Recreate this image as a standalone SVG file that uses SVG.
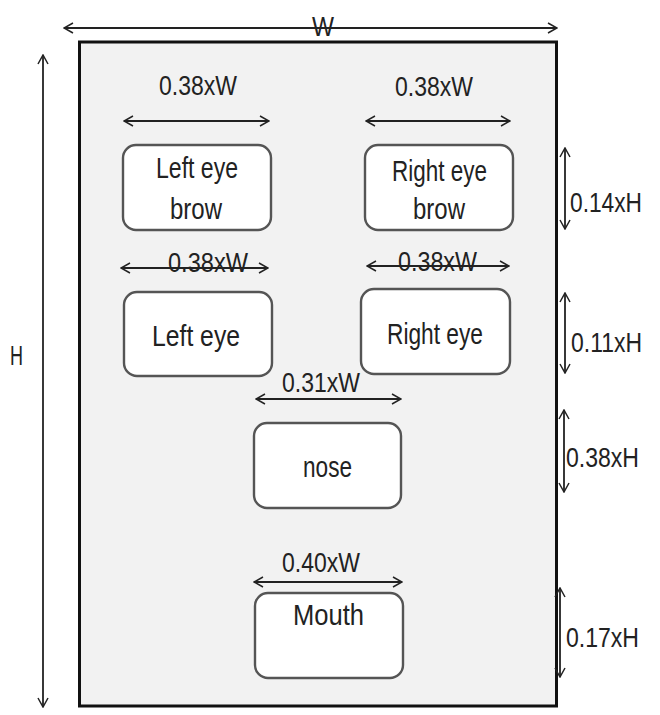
<svg xmlns="http://www.w3.org/2000/svg" width="660" height="715" viewBox="0 0 660 715">
<defs>
<marker id="a" viewBox="0 0 12 12" refX="11" refY="6" markerWidth="12" markerHeight="12" markerUnits="userSpaceOnUse" orient="auto-start-reverse">
<polyline points="2,1 11,6 2,11" fill="none" stroke="#222" stroke-width="1.5"/>
</marker>
<style>
.dim{stroke:#222;stroke-width:1.8;fill:none;marker-start:url(#a);marker-end:url(#a)}
.box{fill:#fff;stroke:#555;stroke-width:2.4}
text{font-family:"Liberation Sans",Arial,sans-serif;fill:#222;font-size:28px}
.b{font-size:30px}
</style>
</defs>
<rect x="0" y="0" width="660" height="715" fill="#fff"/>
<rect id="frame" x="79.5" y="42" width="477" height="664" fill="#f2f2f2" stroke="#111" stroke-width="3"/>
<g id="connectors">
<line class="dim" x1="64" y1="28" x2="557" y2="28"/>
<line class="dim" x1="43" y1="55" x2="43" y2="707"/>
<line class="dim" x1="124" y1="121" x2="269" y2="121"/>
<line class="dim" x1="366" y1="121" x2="510" y2="121"/>
<line class="dim" x1="121" y1="268" x2="268" y2="268"/>
<line class="dim" x1="367" y1="266" x2="509" y2="266"/>
<line class="dim" x1="256" y1="399" x2="401" y2="399"/>
<line class="dim" x1="254" y1="582" x2="402" y2="582"/>
<line class="dim" x1="565" y1="148" x2="565" y2="229"/>
<line class="dim" x1="565" y1="293" x2="565" y2="373"/>
<line class="dim" x1="564" y1="410" x2="564" y2="492"/>
<line class="dim" x1="560" y1="588" x2="560" y2="677"/>
</g>
<g id="labels">
<text x="312" y="36" font-size="30" textLength="22" lengthAdjust="spacingAndGlyphs">W</text>
<text x="10" y="365" font-size="28" textLength="13" lengthAdjust="spacingAndGlyphs">H</text>
<text x="159" y="95" textLength="78" lengthAdjust="spacingAndGlyphs">0.38xW</text>
<text x="395" y="96" textLength="78" lengthAdjust="spacingAndGlyphs">0.38xW</text>
<text x="168" y="272" textLength="80" lengthAdjust="spacingAndGlyphs">0.38xW</text>
<text x="398" y="271" textLength="79" lengthAdjust="spacingAndGlyphs">0.38xW</text>
<text x="282" y="392" textLength="78" lengthAdjust="spacingAndGlyphs">0.31xW</text>
<text x="282" y="572" textLength="78" lengthAdjust="spacingAndGlyphs">0.40xW</text>
<text x="570" y="212" textLength="72" lengthAdjust="spacingAndGlyphs">0.14xH</text>
<text x="571" y="352" textLength="71" lengthAdjust="spacingAndGlyphs">0.11xH</text>
<text x="566" y="467" textLength="73" lengthAdjust="spacingAndGlyphs">0.38xH</text>
<text x="566" y="647" textLength="73" lengthAdjust="spacingAndGlyphs">0.17xH</text>
</g>
<g id="left-eye-brow"><rect class="box" x="123" y="145" width="148" height="85" rx="13"/><text class="b" x="156" y="178" textLength="82" lengthAdjust="spacingAndGlyphs">Left eye</text><text class="b" x="170" y="219" textLength="52" lengthAdjust="spacingAndGlyphs">brow</text></g>
<g id="right-eye-brow"><rect class="box" x="365" y="145" width="148" height="85" rx="13"/><text class="b" x="392" y="181" textLength="95" lengthAdjust="spacingAndGlyphs">Right eye</text><text class="b" x="413" y="219" textLength="52" lengthAdjust="spacingAndGlyphs">brow</text></g>
<g id="left-eye"><rect class="box" x="124" y="292" width="148" height="84" rx="13"/><text class="b" x="152" y="346" textLength="88" lengthAdjust="spacingAndGlyphs">Left eye</text></g>
<g id="right-eye"><rect class="box" x="361" y="289" width="149" height="85" rx="13"/><text class="b" x="387" y="344" textLength="96" lengthAdjust="spacingAndGlyphs">Right eye</text></g>
<g id="nose"><rect class="box" x="254" y="423" width="147" height="85" rx="13"/><text class="b" x="303" y="477" textLength="49" lengthAdjust="spacingAndGlyphs">nose</text></g>
<g id="mouth"><rect class="box" x="255" y="593" width="148" height="85" rx="13"/><text class="b" x="293" y="625" textLength="71" lengthAdjust="spacingAndGlyphs">Mouth</text></g>
</svg>
